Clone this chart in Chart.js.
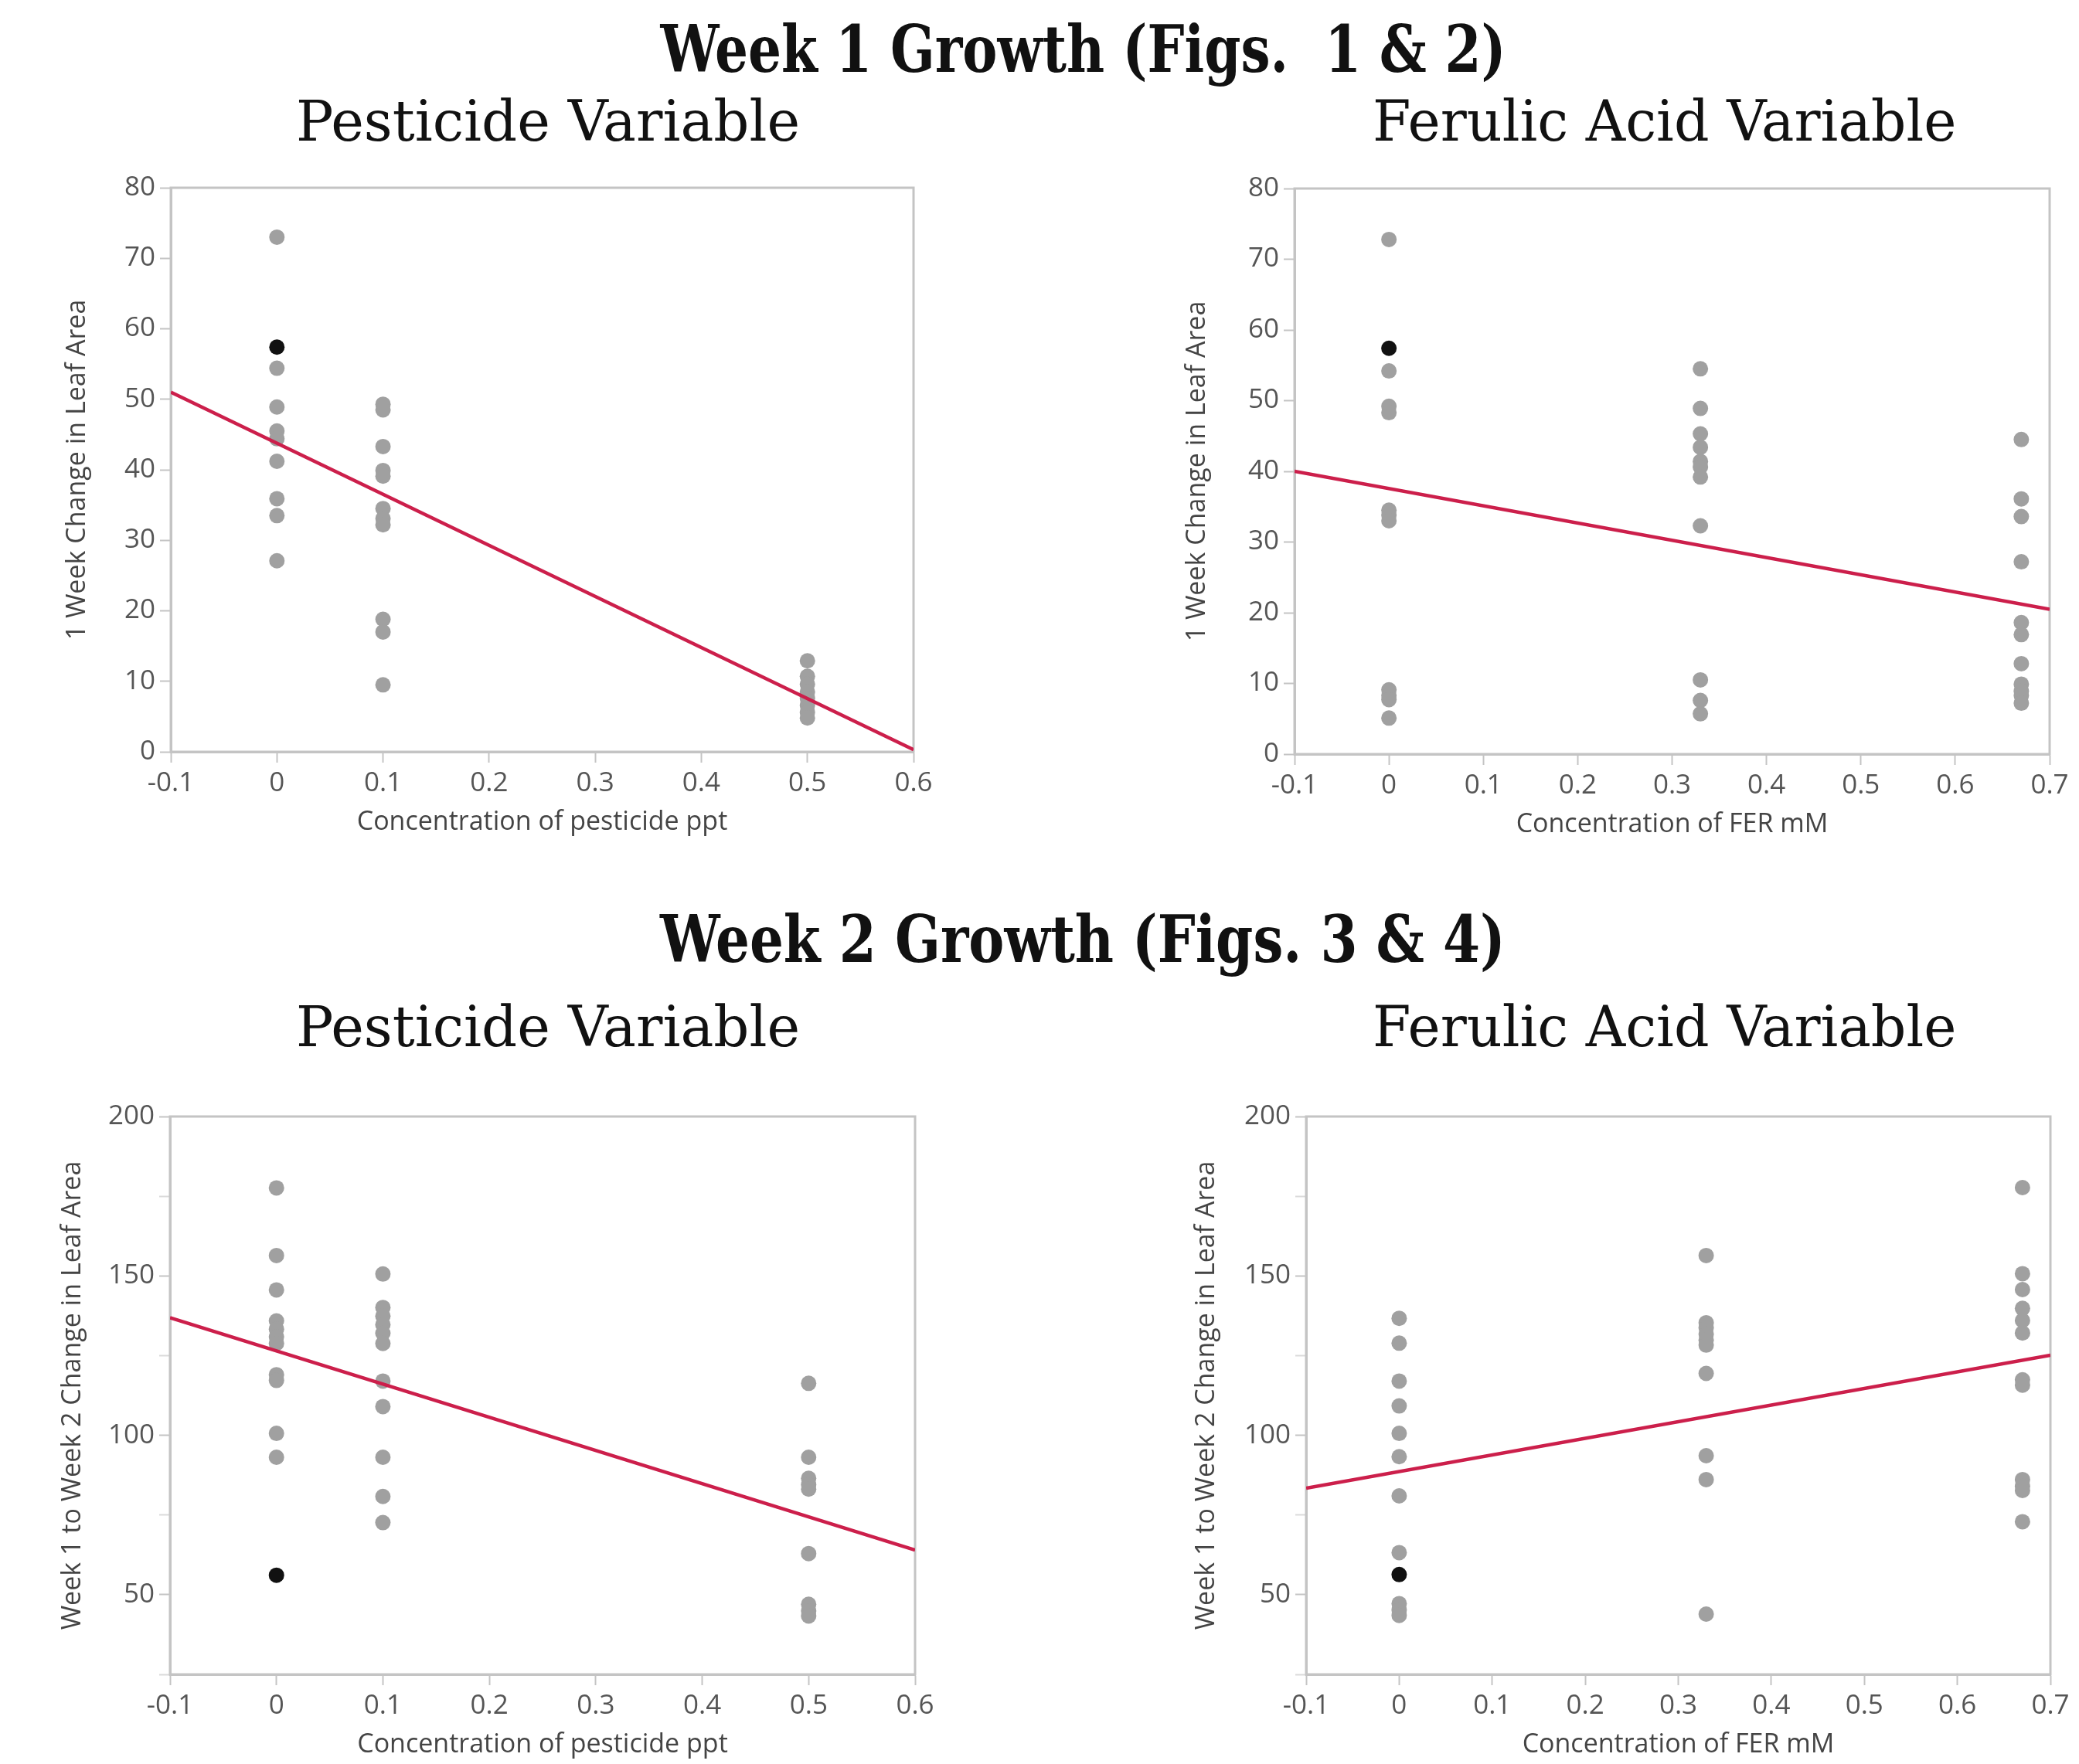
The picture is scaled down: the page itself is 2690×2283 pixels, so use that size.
<!DOCTYPE html>
<html>
<head>
<meta charset="utf-8">
<script src="https://cdn.jsdelivr.net/npm/chart.js@4.4.1/dist/chart.umd.min.js"></script>
<style>
html, body { margin:0; padding:0; background:#fff; }
body { width:2690px; height:2283px; position:relative; overflow:hidden; }
.head { position:absolute; white-space:nowrap; font-family:'DejaVu Serif', serif; color:#111; line-height:1; transform-origin:center center; }
.big { font-weight:bold; font-size:84px; }
.sub { font-size:72px; }
canvas { position:absolute; }
</style>
</head>
<body>
<div class="head big" data-cx="1401" data-cy="64" data-w="1094">Week 1 Growth (Figs.&nbsp; 1 &amp; 2)</div>
<div class="head sub" data-cx="709" data-cy="157" data-w="652">Pesticide Variable</div>
<div class="head sub" data-cx="2153" data-cy="157" data-w="755">Ferulic Acid Variable</div>
<div class="head big" data-cx="1401" data-cy="1216" data-w="1094">Week 2 Growth (Figs. 3 &amp; 4)</div>
<div class="head sub" data-cx="709" data-cy="1329" data-w="652">Pesticide Variable</div>
<div class="head sub" data-cx="2153" data-cy="1329" data-w="755">Ferulic Acid Variable</div>

<canvas id="fig1"></canvas>
<canvas id="fig2"></canvas>
<canvas id="fig3"></canvas>
<canvas id="fig4"></canvas>

<script>
// doses on the x axis
const pestDoses = [0, 0.1, 0.5];
const ferDoses = [0, 0.33, 0.67];

// Fig 1 - week 1, pesticide
const w1PestAt0 = [73.0, 54.4, 48.9, 45.5, 44.4, 41.2, 35.9, 33.5, 27.1];
const w1PestAt01 = [49.3, 48.5, 43.3, 39.9, 39.1, 34.5, 33.1, 32.2, 18.8, 17.0, 9.5];
const w1PestAt05 = [12.9, 10.7, 9.6, 8.5, 7.6, 6.6, 5.6, 4.8];
const w1PestMarked = [57.4];
const w1PestFitX = [-0.1, 0.6];
const w1PestFitY = [51.0, 0.3];

// Fig 2 - week 1, ferulic acid
const w1FerAt0 = [72.8, 54.2, 49.2, 48.3, 34.5, 33.8, 33.0, 9.1, 8.3, 7.7, 5.1];
const w1FerAt033 = [54.5, 48.9, 45.3, 43.4, 41.4, 40.6, 39.2, 32.3, 10.5, 7.6, 5.7];
const w1FerAt067 = [44.5, 36.1, 33.6, 27.2, 18.6, 16.9, 12.8, 9.9, 8.9, 8.3, 7.2];
const w1FerMarked = [57.4];
const w1FerFitX = [-0.1, 0.7];
const w1FerFitY = [40.0, 20.5];

// Fig 3 - week 1 to 2, pesticide
const w2PestAt0 = [177.6, 156.4, 145.6, 135.9, 133.3, 130.9, 128.8, 119.0, 117.2, 100.6, 93.1];
const w2PestAt01 = [150.6, 140.1, 137.4, 134.7, 132.0, 128.8, 117.0, 109.0, 93.1, 80.8, 72.6];
const w2PestAt05 = [116.3, 93.1, 86.5, 84.5, 83.1, 62.9, 47.0, 44.9, 43.3];
const w2PestMarked = [56.1];
const w2PestFitX = [-0.1, 0.6];
const w2PestFitY = [136.9, 64.0];

// Fig 4 - week 1 to 2, ferulic acid
const w2FerAt0 = [136.7, 128.9, 117.0, 109.2, 100.6, 93.3, 81.0, 63.2, 47.2, 45.2, 43.5];
const w2FerAt033 = [156.4, 135.3, 133.7, 131.7, 129.9, 128.3, 119.4, 93.6, 86.1, 43.9];
const w2FerAt067 = [177.7, 150.7, 145.7, 139.8, 136.0, 132.1, 117.4, 115.7, 86.1, 84.0, 82.7, 72.9];
const w2FerMarked = [56.3];
const w2FerFitX = [-0.1, 0.7];
const w2FerFitY = [83.4, 125.1];

// headings: center them and squeeze to the measured width
document.querySelectorAll('.head').forEach(el => {
  const w = el.offsetWidth, h = el.offsetHeight;
  el.style.left = (el.dataset.cx - w / 2) + 'px';
  el.style.top = (el.dataset.cy - h / 2) + 'px';
  el.style.transform = 'scaleX(' + (el.dataset.w / w) + ')';
});

Chart.defaults.font.family = "'Open Sans', sans-serif";
Chart.defaults.font.size = 35;
Chart.defaults.color = '#555';

const AXIS = '#c4c4c4';
const TITLE_SIZE = 34;
const TITLE_LH = TITLE_SIZE * 1.2;

const framePlugin = {
  id: 'frame',
  beforeDatasetsDraw(chart) {
    const { ctx, chartArea: a } = chart;
    ctx.save();
    ctx.strokeStyle = AXIS;
    ctx.lineWidth = 3;
    ctx.strokeRect(a.left, a.top, a.right - a.left, a.bottom - a.top);
    ctx.restore();
  }
};

function toPoints(x, ys) { return ys.map(y => ({ x: x, y: y })); }
function pairs(xs, ys) { return xs.map((x, i) => ({ x: x, y: ys[i] })); }

function makeChart(id, c) {
  const canvas = document.getElementById(id);
  canvas.width = c.canvas.r - c.canvas.l;
  canvas.height = c.canvas.b - c.canvas.t;
  canvas.style.left = c.canvas.l + 'px';
  canvas.style.top = c.canvas.t + 'px';

  const gray = [];
  c.doses.forEach((d, i) => gray.push(...toPoints(d, c.groups[i])));

  new Chart(canvas, {
    type: 'scatter',
    data: {
      datasets: [
        { type: 'line', data: pairs(c.fitX, c.fitY), borderColor: '#cc1f4b', borderWidth: 4.5, pointRadius: 0, fill: false },
        { data: toPoints(0, c.marked), backgroundColor: '#111', borderWidth: 0, pointRadius: 10 },
        { data: gray, backgroundColor: '#a0a0a0', borderWidth: 0, pointRadius: 10 }
      ]
    },
    options: {
      responsive: false,
      animation: false,
      events: [],
      layout: {
        padding: {
          left: 0, bottom: 0,
          top: c.area.t - c.canvas.t,
          right: c.canvas.r - c.area.r
        }
      },
      plugins: { legend: { display: false }, tooltip: { enabled: false } },
      scales: {
        x: {
          type: 'linear',
          min: -0.1, max: c.xMax,
          afterFit: s => { s.height = c.canvas.b - c.area.b; },
          afterBuildTicks: s => { s.ticks = c.xTicks.map(v => ({ value: v })); },
          ticks: { padding: 6, color: '#555', callback: v => String(Math.round(v * 10) / 10) },
          grid: { drawOnChartArea: false, drawTicks: true, tickLength: 14, tickColor: AXIS, tickWidth: 2 },
          border: { color: AXIS, width: 3 },
          title: {
            display: true, text: c.xTitle, color: '#444', font: { size: TITLE_SIZE },
            padding: { top: 0, bottom: c.canvas.b - c.xTitleY - TITLE_LH / 2 }
          }
        },
        y: {
          min: c.yMin, max: c.yMax,
          afterFit: s => { s.width = c.area.l - c.canvas.l; },
          afterBuildTicks: s => { s.ticks = c.yTicks.map(v => ({ value: v })); },
          ticks: { padding: 6, color: '#555', callback: v => c.yLabels.includes(v) ? String(v) : '' },
          grid: {
            drawOnChartArea: false, drawTicks: true, tickLength: 14, tickWidth: 2,
            tickColor: ctx => (ctx.tick && c.yLabels.includes(ctx.tick.value)) ? AXIS : '#dadada'
          },
          border: { color: AXIS, width: 3 },
          title: {
            display: true, text: c.yTitle, color: '#444', font: { size: TITLE_SIZE },
            padding: { top: c.yTitleX - c.canvas.l - TITLE_LH / 2, bottom: 0 }
          }
        }
      }
    },
    plugins: [framePlugin]
  });
}

const pestTicks = [-0.1, 0, 0.1, 0.2, 0.3, 0.4, 0.5, 0.6];
const ferTicks = [-0.1, 0, 0.1, 0.2, 0.3, 0.4, 0.5, 0.6, 0.7];
const w1YTicks = [0, 10, 20, 30, 40, 50, 60, 70, 80];
const w2YTicks = [25, 50, 75, 100, 125, 150, 175, 200];
const w2YLabels = [50, 100, 150, 200];

makeChart('fig1', {
  canvas: { l: 50, t: 200, r: 1260, b: 1110 },
  area: { l: 221, t: 243, r: 1182, b: 973 },
  doses: pestDoses, groups: [w1PestAt0, w1PestAt01, w1PestAt05], marked: w1PestMarked,
  fitX: w1PestFitX, fitY: w1PestFitY,
  xMax: 0.6, xTicks: pestTicks, yMin: 0, yMax: 80, yTicks: w1YTicks, yLabels: w1YTicks,
  xTitle: 'Concentration of pesticide ppt', yTitle: '1 Week Change in Leaf Area',
  xTitleY: 1064, yTitleX: 100
});

makeChart('fig2', {
  canvas: { l: 1500, t: 200, r: 2690, b: 1110 },
  area: { l: 1675, t: 244, r: 2652, b: 976 },
  doses: ferDoses, groups: [w1FerAt0, w1FerAt033, w1FerAt067], marked: w1FerMarked,
  fitX: w1FerFitX, fitY: w1FerFitY,
  xMax: 0.7, xTicks: ferTicks, yMin: 0, yMax: 80, yTicks: w1YTicks, yLabels: w1YTicks,
  xTitle: 'Concentration of FER mM', yTitle: '1 Week Change in Leaf Area',
  xTitleY: 1067, yTitleX: 1549
});

makeChart('fig3', {
  canvas: { l: 50, t: 1400, r: 1260, b: 2283 },
  area: { l: 220, t: 1445, r: 1184, b: 2167 },
  doses: pestDoses, groups: [w2PestAt0, w2PestAt01, w2PestAt05], marked: w2PestMarked,
  fitX: w2PestFitX, fitY: w2PestFitY,
  xMax: 0.6, xTicks: pestTicks, yMin: 25, yMax: 200, yTicks: w2YTicks, yLabels: w2YLabels,
  xTitle: 'Concentration of pesticide ppt', yTitle: 'Week 1 to Week 2 Change in Leaf Area',
  xTitleY: 2258, yTitleX: 94
});

makeChart('fig4', {
  canvas: { l: 1500, t: 1400, r: 2690, b: 2283 },
  area: { l: 1690, t: 1445, r: 2653, b: 2167 },
  doses: ferDoses, groups: [w2FerAt0, w2FerAt033, w2FerAt067], marked: w2FerMarked,
  fitX: w2FerFitX, fitY: w2FerFitY,
  xMax: 0.7, xTicks: ferTicks, yMin: 25, yMax: 200, yTicks: w2YTicks, yLabels: w2YLabels,
  xTitle: 'Concentration of FER mM', yTitle: 'Week 1 to Week 2 Change in Leaf Area',
  xTitleY: 2258, yTitleX: 1561
});
</script>
</body>
</html>
